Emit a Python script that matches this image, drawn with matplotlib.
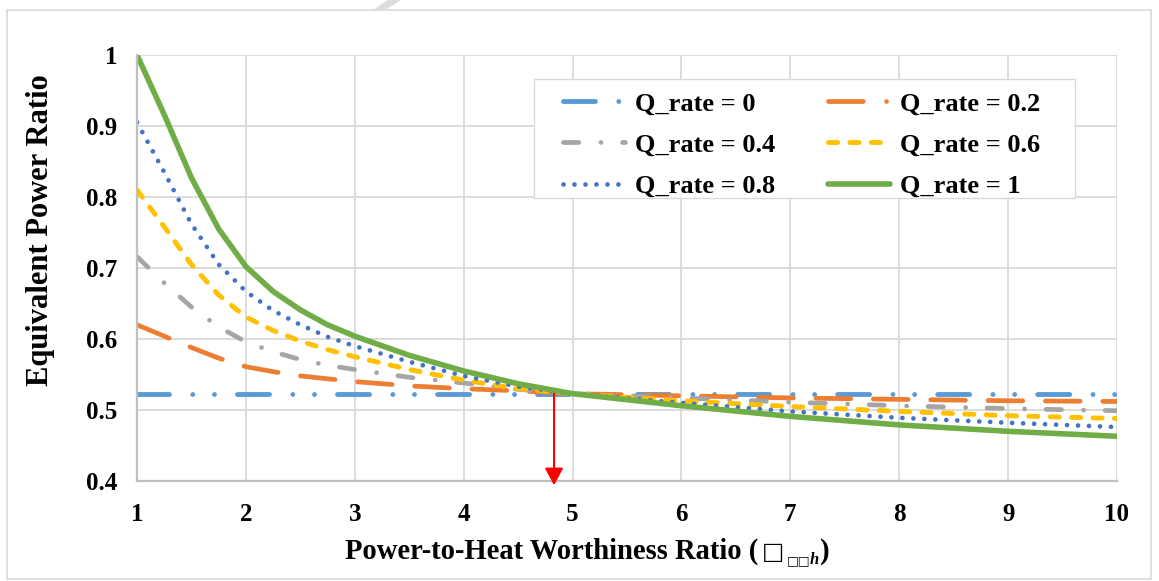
import matplotlib
matplotlib.use("Agg")
import matplotlib.pyplot as plt
from matplotlib.lines import Line2D
from matplotlib.patches import Rectangle, Polygon

W, H = 1159, 581
plt.rcParams["font.family"] = ["Liberation Serif", "DejaVu Sans"]
plt.rcParams["font.weight"] = "bold"
plt.rcParams["lines.scale_dashes"] = False

# values
x = [1, 1.25, 1.5, 1.75, 2, 2.25, 2.5, 2.75, 3, 3.5, 4, 4.5, 5,
     6, 7, 8, 9, 10]
q_0 = [0.523, 0.523, 0.523, 0.523, 0.523, 0.523, 0.523, 0.523, 0.523,
       0.523, 0.523, 0.523, 0.523, 0.523, 0.523, 0.523, 0.523, 0.523]
q_02 = [0.620, 0.604, 0.588, 0.573, 0.561, 0.554, 0.548, 0.544, 0.540,
        0.534, 0.530, 0.527, 0.523, 0.520, 0.517, 0.515, 0.513, 0.512]
q_04 = [0.716, 0.679, 0.645, 0.617, 0.596, 0.582, 0.571, 0.563, 0.557,
        0.546, 0.538, 0.529, 0.523, 0.517, 0.511, 0.506, 0.502, 0.499]
q_06 = [0.810, 0.758, 0.705, 0.662, 0.631, 0.612, 0.597, 0.585, 0.575,
        0.557, 0.542, 0.530, 0.523, 0.513, 0.505, 0.498, 0.492, 0.488]
q_08 = [0.905, 0.835, 0.762, 0.705, 0.667, 0.640, 0.620, 0.603, 0.590,
        0.568, 0.548, 0.533, 0.523, 0.510, 0.498, 0.489, 0.482, 0.476]
q_1 = [1.000, 0.916, 0.827, 0.755, 0.702, 0.667, 0.641, 0.620, 0.604,
       0.577, 0.555, 0.537, 0.523, 0.506, 0.491, 0.479, 0.470, 0.463]

labels = ["Q_rate = 0", "Q_rate = 0.2", "Q_rate = 0.4",
          "Q_rate = 0.6", "Q_rate = 0.8", "Q_rate = 1"]
series = [q_0, q_02, q_04, q_06, q_08, q_1]
colors = ["#5B9BD5", "#ED7D31", "#A5A5A5", "#FFC000", "#4472C4", "#70AD47"]
widths = [3.5, 3.4, 3.4, 3.5, 3.4, 4.0]
# dash patterns in points
dashes = [
    (0, (23, 16.8, 0.01, 15.6, 0.01, 16.6)),
    (0, (25, 16.3)),
    (0, (11, 16, 0.01, 15.5)),
    (0, (6.6, 8.8)),
    (0, (0.01, 7.9)),
    "solid",
]
legend_dashes = list(dashes)
legend_dashes[1] = (0, (25, 16.8, 0.01, 20))

arrow_x = 4.83
arrow_from, arrow_to = 0.523, 0.394

fig = plt.figure(figsize=(W / 100, H / 100), dpi=100)
ax = fig.add_axes([137 / W, 1 - 481 / H, 980 / W, 426 / H])

for ys, lab, c, lw, ls in zip(series, labels, colors, widths, dashes):
    ax.plot(x, ys, color=c, lw=lw, linestyle=ls, label=lab,
            dash_capstyle="round", solid_capstyle="round")

ax.set_xlim(1, 10)
ax.set_ylim(0.4, 1.0)
ax.set_xticks(range(1, 11))
ax.set_yticks([0.4, 0.5, 0.6, 0.7, 0.8, 0.9, 1.0])
ax.set_yticklabels(["0.4", "0.5", "0.6", "0.7", "0.8", "0.9", "1"])
ax.tick_params(length=0, labelsize=18)
ax.tick_params(axis="y", pad=14)
ax.tick_params(axis="x", pad=16)
ax.grid(color="#D9D9D9", lw=1.3)
ax.set_axisbelow(True)
for s in ["top", "right"]:
    ax.spines[s].set_visible(False)
for s in ["left", "bottom"]:
    ax.spines[s].set_color("#BFBFBF")
    ax.spines[s].set_linewidth(1.6)

ax.annotate("", xy=(arrow_x, arrow_to), xytext=(arrow_x, arrow_from),
            arrowprops=dict(arrowstyle="-|>,head_length=0.65,head_width=0.35",
                            color="red", lw=1.5, mutation_scale=16,
                            shrinkA=0, shrinkB=0),
            annotation_clip=False, zorder=10)


def ax_px(px, py):
    # pixel position in the picture -> axes fraction
    return (px - 137) / 980, (481 - py) / 426


# legend: white box drawn separately, entries placed without frame
bx0, by0 = ax_px(533.7, 198.3)
bx1, by1 = ax_px(1074.8, 79.3)
ax.add_patch(Rectangle((bx0, by0), bx1 - bx0, by1 - by0,
                       transform=ax.transAxes, facecolor="white",
                       edgecolor="#D9D9D9", lw=1.0, zorder=4))
handles = [Line2D([], [], color=c, lw=lw, linestyle=ls,
                  dash_capstyle="round", solid_capstyle="round")
           for c, lw, ls in zip(colors, widths, legend_dashes)]
order = [0, 2, 4, 1, 3, 5]
leg = ax.legend([handles[i] for i in order], [labels[i] for i in order],
                ncol=2, loc="upper left", bbox_to_anchor=ax_px(563, 92),
                frameon=False, prop={"size": 19, "weight": "bold"},
                handlelength=2.35, handletextpad=0.36, labelspacing=0.67,
                columnspacing=2.03, borderpad=0, borderaxespad=0)
leg.set_zorder(5)

# axis titles
fig.text(41 / W, 1 - 230 / H, "Equivalent Power Ratio", rotation=90,
         ha="center", va="center", fontsize=22)

base = 1 - 559 / H
sub_base = 1 - 564 / H
pieces = [
    ("Power-to-Heat Worthiness Ratio (", base, 0, dict(fontsize=20.6)),
    ("\u25A1", base, 4, dict(fontsize=17, fontweight="normal",
                             family=["DejaVu Sans"])),
    ("\u25A1\u25A1", sub_base, 2, dict(fontsize=9, fontweight="normal",
                                       family=["DejaVu Sans"])),
    ("h", sub_base, 0, dict(fontsize=12, fontweight="bold",
                            fontstyle="italic")),
    (")", base, 0, dict(fontsize=20.6)),
]
cur_x = 345
renderer = fig.canvas.get_renderer()
for txt, yb, gap, kw in pieces:
    t = fig.text((cur_x + gap) / W, yb, txt, ha="left", va="baseline", **kw)
    cur_x = t.get_window_extent(renderer).x1

# chart border and the faint slash at the top
fig.patches.append(Rectangle((7 / W, 1 - 579 / H), 1144 / W, 569 / H,
                             transform=fig.transFigure, fill=False,
                             edgecolor="#D9D9D9", lw=1.2))
fig.patches.append(Polygon([(373 / W, 1 - 10 / H), (385 / W, 1 - 10 / H),
                            (401 / W, 1.0), (388 / W, 1.0)],
                           closed=True, transform=fig.transFigure,
                           facecolor="#DCDCDC", edgecolor="none"))

fig.savefig("out.png", dpi=100)
